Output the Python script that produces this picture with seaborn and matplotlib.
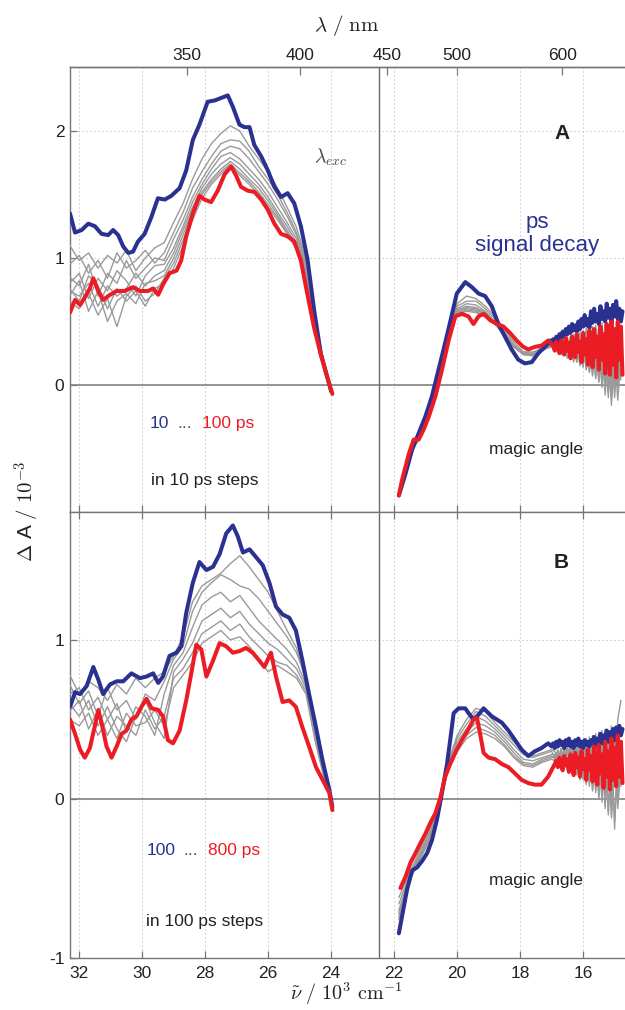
import numpy as np
import matplotlib
matplotlib.use("Agg")
import matplotlib.pyplot as plt
import seaborn as sns

# ---------------------------------------------------------------------------
# Transient absorption spectra, wavenumber in 10^3 cm^-1, dA in 10^-3
# Panel A: 10 ... 100 ps (10 ps steps), Panel B: 100 ... 800 ps (100 ps steps)
# Each spectrum has a UV part (32.3 - 24) and a visible part (21.9 - 14.7).
# ---------------------------------------------------------------------------

# sampling of the noisy red edge of the visible window
nu_tail = [17.10, 17.05, 17.00, 16.95, 16.90, 16.85, 16.80, 16.75, 16.70, 16.65,
           16.60, 16.55, 16.50, 16.45, 16.40, 16.35, 16.30, 16.25, 16.20, 16.15,
           16.10, 16.05, 16.00, 15.95, 15.90, 15.85, 15.80, 15.75, 15.70, 15.65,
           15.60, 15.55, 15.50, 15.45, 15.40, 15.35, 15.30, 15.25, 15.20, 15.15,
           15.10, 15.05, 15.00, 14.95, 14.90, 14.85, 14.80, 14.75]

# ---- Panel A, first delay (10 ps) ----
nu_A_first_uv = [32.29, 32.13, 31.92, 31.71, 31.50, 31.29, 31.08, 30.92, 30.76, 30.60,
                 30.44, 30.29, 30.13, 29.92, 29.71, 29.50, 29.28, 29.07, 28.81, 28.60,
                 28.39, 28.18, 27.92, 27.70, 27.49, 27.28, 27.12, 26.91, 26.75, 26.59,
                 26.44, 26.22, 26.01, 25.80, 25.59, 25.38, 25.17, 24.96, 24.75, 24.54,
                 24.33, 24.12, 24.00]
dA_A_first_uv = [1.35, 1.20, 1.22, 1.27, 1.25, 1.19, 1.18, 1.22, 1.18, 1.09,
                 1.04, 1.05, 1.13, 1.19, 1.32, 1.47, 1.46, 1.49, 1.55, 1.69,
                 1.93, 2.05, 2.23, 2.24, 2.26, 2.28, 2.19, 2.05, 2.03, 2.03,
                 1.89, 1.80, 1.69, 1.56, 1.48, 1.51, 1.43, 1.25, 0.99, 0.59,
                 0.25, 0.06, -0.05]
nu_A_first_vis = [21.85, 21.64, 21.43, 21.22, 21.01, 20.80, 20.59, 20.38, 20.16, 20.01,
                  19.74, 19.53, 19.32, 19.11, 18.90, 18.69, 18.48, 18.27, 18.06, 17.85,
                  17.63, 17.42, 17.21] + nu_tail
dA_A_first_vis = [-0.87, -0.70, -0.51, -0.38, -0.25, -0.09, 0.12, 0.33, 0.56, 0.72,
                  0.81, 0.77, 0.72, 0.70, 0.62, 0.48, 0.38, 0.28, 0.20, 0.17,
                  0.18, 0.25, 0.30] + \
                 [0.33, 0.35, 0.32, 0.36, 0.34, 0.38, 0.35, 0.40, 0.37, 0.42,
                  0.38, 0.44, 0.40, 0.46, 0.41, 0.48, 0.43, 0.47, 0.42, 0.50,
                  0.44, 0.52, 0.46, 0.55, 0.47, 0.52, 0.45, 0.58, 0.49, 0.60,
                  0.50, 0.56, 0.48, 0.62, 0.52, 0.58, 0.50, 0.64, 0.53, 0.60,
                  0.49, 0.63, 0.54, 0.66, 0.52, 0.60, 0.50, 0.58]

# ---- Panel A, last delay (100 ps) ----
nu_A_last_uv = [32.29, 32.13, 31.97, 31.82, 31.66, 31.55, 31.39, 31.24, 31.02, 30.81,
                30.55, 30.29, 30.07, 29.81, 29.65, 29.49, 29.34, 29.13, 28.91, 28.76,
                28.60, 28.39, 28.18, 28.02, 27.81, 27.60, 27.38, 27.17, 27.02, 26.86,
                26.65, 26.43, 26.22, 26.01, 25.80, 25.59, 25.38, 25.17, 24.96, 24.75,
                24.54, 24.33, 24.11, 23.96]
dA_A_last_uv = [0.57, 0.67, 0.63, 0.69, 0.76, 0.84, 0.74, 0.67, 0.71, 0.74,
                0.74, 0.77, 0.74, 0.74, 0.76, 0.71, 0.79, 0.88, 0.90, 0.98,
                1.17, 1.35, 1.49, 1.46, 1.44, 1.53, 1.66, 1.72, 1.65, 1.56,
                1.53, 1.52, 1.46, 1.38, 1.27, 1.19, 1.17, 1.13, 0.98, 0.71,
                0.45, 0.24, 0.05, -0.07]
nu_A_last_vis = [21.85, 21.75, 21.53, 21.38, 21.22, 21.06, 20.90, 20.69, 20.48, 20.27,
                 20.06, 19.85, 19.64, 19.48, 19.32, 19.16, 18.95, 18.74, 18.53, 18.32,
                 18.11, 17.90, 17.74, 17.53, 17.32, 17.11] + nu_tail[3:]
dA_A_last_vis = [-0.87, -0.75, -0.54, -0.43, -0.43, -0.35, -0.25, -0.09, 0.12, 0.35,
                 0.54, 0.56, 0.54, 0.48, 0.54, 0.56, 0.51, 0.48, 0.46, 0.41,
                 0.35, 0.30, 0.28, 0.30, 0.31, 0.35] + \
                [0.31, 0.27, 0.34, 0.29, 0.25, 0.35, 0.30, 0.24, 0.37, 0.27,
                 0.33, 0.21, 0.38, 0.30, 0.22, 0.40, 0.26, 0.34, 0.18, 0.41,
                 0.24, 0.36, 0.16, 0.43, 0.28, 0.14, 0.44, 0.22, 0.38, 0.12,
                 0.46, 0.20, 0.40, 0.09, 0.48, 0.26, 0.08, 0.50, 0.16, 0.44,
                 0.06, 0.50, 0.20, 0.46, 0.08]

# ---- intermediate delays share coarser grids ----
nu_mid_uv = [32.3, 32.0, 31.7, 31.4, 31.1, 30.8, 30.5, 30.2, 29.9, 29.6,
             29.3, 29.0, 28.7, 28.4, 28.1, 27.8, 27.5, 27.2, 26.9, 26.6,
             26.3, 26.0, 25.7, 25.4, 25.1, 24.8, 24.5, 24.2, 24.0]
nu_mid_vis = [21.85, 21.5, 21.2, 20.9, 20.6, 20.3, 20.0, 19.7, 19.4, 19.1,
              18.8, 18.5, 18.2, 17.9, 17.6, 17.3, 17.0,
              16.9, 16.8, 16.7, 16.6, 16.5, 16.4, 16.3, 16.2, 16.1, 16.0,
              15.9, 15.8, 15.7, 15.6, 15.5, 15.4, 15.3, 15.2, 15.1, 15.0,
              14.9, 14.8]

# Panel A, 20 ... 90 ps
dA_A_mid_uv = [
    [1.10, 0.98, 1.04, 0.92, 1.02, 0.96, 1.06, 0.90, 1.00, 1.08, 1.12, 1.28, 1.43, 1.62, 1.78,
     1.90, 1.98, 2.04, 2.00, 1.88, 1.78, 1.68, 1.55, 1.40, 1.24, 1.00, 0.50, 0.15, -0.03],
    [0.95, 1.02, 0.88, 0.98, 0.84, 1.04, 0.92, 0.98, 1.06, 0.96, 1.04, 1.20, 1.36, 1.55, 1.68,
     1.80, 1.90, 1.93, 1.92, 1.84, 1.72, 1.62, 1.50, 1.36, 1.20, 0.98, 0.49, 0.14, -0.03],
    [0.85, 0.78, 0.95, 0.70, 0.88, 0.80, 0.98, 0.84, 0.92, 1.00, 0.98, 1.15, 1.30, 1.48, 1.62,
     1.74, 1.84, 1.88, 1.86, 1.78, 1.68, 1.58, 1.46, 1.33, 1.18, 0.96, 0.48, 0.14, -0.03],
    [0.80, 0.88, 0.68, 0.84, 0.74, 0.90, 0.82, 0.70, 0.86, 0.94, 0.95, 1.08, 1.25, 1.44, 1.58,
     1.70, 1.80, 1.83, 1.78, 1.70, 1.62, 1.52, 1.40, 1.28, 1.15, 0.94, 0.47, 0.13, -0.04],
    [0.74, 0.70, 0.80, 0.62, 0.78, 0.70, 0.76, 0.88, 0.78, 0.86, 0.90, 1.04, 1.22, 1.40, 1.55,
     1.66, 1.74, 1.79, 1.74, 1.66, 1.58, 1.48, 1.36, 1.25, 1.12, 0.92, 0.46, 0.13, -0.04],
    [0.70, 0.82, 0.58, 0.74, 0.50, 0.66, 0.72, 0.64, 0.80, 0.82, 0.86, 1.00, 1.18, 1.38, 1.52,
     1.62, 1.70, 1.76, 1.70, 1.62, 1.55, 1.45, 1.34, 1.22, 1.10, 0.90, 0.45, 0.12, -0.04],
    [0.66, 0.60, 0.72, 0.55, 0.68, 0.46, 0.70, 0.78, 0.66, 0.72, 0.84, 0.96, 1.14, 1.34, 1.50,
     1.60, 1.68, 1.74, 1.67, 1.60, 1.52, 1.42, 1.32, 1.20, 1.08, 0.88, 0.44, 0.12, -0.04],
    [0.76, 0.66, 0.86, 0.78, 0.60, 0.76, 0.66, 0.74, 0.62, 0.76, 0.80, 0.92, 1.10, 1.30, 1.47,
     1.58, 1.66, 1.73, 1.65, 1.58, 1.50, 1.40, 1.30, 1.19, 1.07, 0.86, 0.43, 0.12, -0.05],
]
dA_A_mid_vis = [
    [-0.85, -0.55, -0.40, -0.20, 0.08, 0.38, 0.64, 0.70, 0.68, 0.62, 0.54, 0.44, 0.34, 0.26,
     0.25, 0.30, 0.36,
     0.33, 0.28, 0.36, 0.27, 0.38, 0.25, 0.40, 0.24, 0.42, 0.22, 0.45, 0.20, 0.46, 0.18,
     0.48, 0.14, 0.50, 0.12, 0.48, 0.16, 0.52, 0.20],
    [-0.86, -0.54, -0.41, -0.22, 0.06, 0.36, 0.62, 0.66, 0.66, 0.60, 0.52, 0.42, 0.32, 0.25,
     0.24, 0.29, 0.33,
     0.30, 0.35, 0.26, 0.37, 0.24, 0.39, 0.22, 0.41, 0.20, 0.43, 0.17, 0.45, 0.14, 0.47,
     0.10, 0.49, 0.06, 0.46, 0.02, 0.44, 0.10, 0.40],
    [-0.84, -0.56, -0.39, -0.21, 0.07, 0.35, 0.60, 0.64, 0.63, 0.58, 0.50, 0.41, 0.31, 0.24,
     0.23, 0.28, 0.32,
     0.32, 0.27, 0.34, 0.25, 0.36, 0.22, 0.38, 0.20, 0.40, 0.16, 0.42, 0.12, 0.40, 0.08,
     0.44, 0.02, 0.42, -0.06, 0.40, 0.04, 0.38, 0.18],
    [-0.87, -0.53, -0.42, -0.23, 0.05, 0.34, 0.59, 0.62, 0.61, 0.57, 0.49, 0.40, 0.30, 0.24,
     0.23, 0.27, 0.31,
     0.29, 0.34, 0.25, 0.36, 0.22, 0.37, 0.20, 0.39, 0.17, 0.40, 0.14, 0.42, 0.10, 0.44,
     0.04, 0.42, -0.04, 0.44, -0.12, 0.40, 0.02, 0.34],
    [-0.85, -0.55, -0.42, -0.22, 0.06, 0.33, 0.58, 0.61, 0.60, 0.56, 0.49, 0.40, 0.31, 0.25,
     0.24, 0.28, 0.32,
     0.31, 0.26, 0.33, 0.24, 0.35, 0.21, 0.36, 0.18, 0.38, 0.15, 0.40, 0.10, 0.41, 0.06,
     0.38, 0.00, 0.40, -0.10, 0.36, -0.04, 0.32, 0.12],
    [-0.86, -0.54, -0.41, -0.23, 0.05, 0.33, 0.57, 0.60, 0.59, 0.55, 0.48, 0.39, 0.30, 0.24,
     0.24, 0.27, 0.31,
     0.28, 0.33, 0.24, 0.35, 0.21, 0.36, 0.18, 0.37, 0.16, 0.38, 0.12, 0.40, 0.08, 0.39,
     0.02, 0.36, -0.08, 0.34, -0.16, 0.30, -0.02, 0.26],
    [-0.84, -0.53, -0.42, -0.24, 0.04, 0.32, 0.56, 0.59, 0.58, 0.54, 0.48, 0.39, 0.30, 0.25,
     0.25, 0.28, 0.30,
     0.30, 0.26, 0.32, 0.23, 0.34, 0.20, 0.35, 0.18, 0.36, 0.14, 0.37, 0.10, 0.36, 0.05,
     0.34, -0.02, 0.32, -0.06, 0.30, -0.10, 0.28, 0.04],
    [-0.86, -0.53, -0.42, -0.24, 0.04, 0.32, 0.56, 0.58, 0.57, 0.54, 0.48, 0.40, 0.31, 0.26,
     0.26, 0.28, 0.30,
     0.27, 0.32, 0.24, 0.34, 0.22, 0.35, 0.19, 0.36, 0.15, 0.37, 0.12, 0.38, 0.07, 0.36,
     0.03, 0.34, -0.04, 0.30, -0.08, 0.26, -0.12, 0.20],
]

# ---- Panel B, first delay (100 ps) ----
nu_B_first_uv = [32.29, 32.13, 31.97, 31.76, 31.55, 31.39, 31.24, 31.02, 30.81, 30.60,
                 30.34, 30.07, 29.86, 29.65, 29.49, 29.34, 29.13, 28.91, 28.76, 28.60,
                 28.39, 28.18, 27.96, 27.75, 27.54, 27.33, 27.12, 26.96, 26.80, 26.59,
                 26.38, 26.17, 25.96, 25.75, 25.54, 25.33, 25.12, 24.91, 24.70, 24.48,
                 24.27, 24.06, 23.96]
dA_B_first_uv = [0.58, 0.67, 0.66, 0.71, 0.83, 0.75, 0.66, 0.72, 0.74, 0.74,
                 0.79, 0.76, 0.77, 0.79, 0.73, 0.77, 0.90, 0.92, 0.96, 1.17,
                 1.36, 1.49, 1.44, 1.46, 1.54, 1.67, 1.72, 1.65, 1.55, 1.57,
                 1.52, 1.47, 1.36, 1.21, 1.16, 1.14, 1.06, 0.87, 0.66, 0.45,
                 0.24, 0.06, -0.05]
nu_B_first_vis = [21.85, 21.75, 21.59, 21.43, 21.27, 21.11, 20.95, 20.80, 20.64, 20.48,
                  20.32, 20.22, 20.11, 19.95, 19.74, 19.64, 19.48, 19.32, 19.16, 18.90,
                  18.58, 18.37, 18.16, 17.95, 17.74, 17.53, 17.32, 17.11] + nu_tail[2:]
dA_B_first_vis = [-0.845, -0.74, -0.57, -0.45, -0.43, -0.39, -0.34, -0.26, -0.13, 0.04,
                  0.22, 0.37, 0.54, 0.57, 0.57, 0.54, 0.50, 0.53, 0.57, 0.52,
                  0.48, 0.43, 0.37, 0.31, 0.27, 0.30, 0.32, 0.35] + \
                 [0.33, 0.35, 0.32, 0.36, 0.33, 0.37, 0.34, 0.36, 0.32, 0.37,
                  0.34, 0.38, 0.33, 0.36, 0.32, 0.37, 0.34, 0.38, 0.33, 0.36,
                  0.32, 0.37, 0.34, 0.36, 0.33, 0.37, 0.35, 0.39, 0.34, 0.38,
                  0.36, 0.41, 0.35, 0.40, 0.37, 0.43, 0.36, 0.42, 0.38, 0.44,
                  0.37, 0.45, 0.39, 0.46, 0.40, 0.44]

# ---- Panel B, last delay (800 ps) ----
nu_B_last_uv = [32.29, 32.13, 31.97, 31.82, 31.66, 31.50, 31.39, 31.29, 31.13, 30.97,
                30.81, 30.65, 30.50, 30.34, 30.18, 30.02, 29.86, 29.70, 29.49, 29.34,
                29.18, 29.02, 28.81, 28.60, 28.44, 28.28, 28.12, 27.96, 27.75, 27.54,
                27.33, 27.12, 26.91, 26.70, 26.49, 26.28, 26.12, 25.91, 25.75, 25.54,
                25.33, 25.12, 24.91, 24.70, 24.48, 24.27, 24.06, 23.96]
dA_B_last_uv = [0.50, 0.41, 0.31, 0.26, 0.32, 0.46, 0.56, 0.48, 0.33, 0.26,
                0.33, 0.41, 0.43, 0.50, 0.52, 0.58, 0.63, 0.57, 0.56, 0.52,
                0.37, 0.35, 0.43, 0.62, 0.79, 0.97, 0.94, 0.77, 0.87, 0.98,
                0.96, 0.92, 0.93, 0.95, 0.92, 0.87, 0.83, 0.92, 0.77, 0.61,
                0.62, 0.58, 0.45, 0.33, 0.20, 0.12, 0.04, -0.07]
nu_B_last_vis = [21.80, 21.64, 21.48, 21.32, 21.17, 21.01, 20.85, 20.69, 20.53, 20.38,
                 20.22, 20.06, 19.85, 19.64, 19.48, 19.37, 19.27, 19.16, 19.00, 18.79,
                 18.58, 18.37, 18.16, 17.95, 17.74, 17.53, 17.32, 17.11, 16.90] + nu_tail[5:]
dA_B_last_vis = [-0.56, -0.49, -0.40, -0.34, -0.28, -0.22, -0.15, -0.09, 0.01, 0.14,
                 0.22, 0.29, 0.37, 0.44, 0.50, 0.51, 0.41, 0.29, 0.26, 0.25,
                 0.22, 0.20, 0.16, 0.12, 0.10, 0.09, 0.09, 0.14, 0.22] + \
                [0.24, 0.20, 0.26, 0.22, 0.18, 0.27, 0.21, 0.25, 0.17, 0.28,
                 0.22, 0.15, 0.29, 0.20, 0.26, 0.14, 0.30, 0.19, 0.25, 0.12,
                 0.31, 0.18, 0.27, 0.11, 0.33, 0.20, 0.09, 0.34, 0.16, 0.28,
                 0.07, 0.36, 0.14, 0.30, 0.06, 0.38, 0.12, 0.32, 0.08, 0.40,
                 0.14, 0.36, 0.10]

# Panel B, 200 ... 700 ps
dA_B_mid_uv = [
    [0.78, 0.66, 0.74, 0.70, 0.62, 0.72, 0.66, 0.76, 0.70, 0.76, 0.80, 0.90, 1.02, 1.24, 1.34,
     1.38, 1.42, 1.48, 1.53, 1.46, 1.38, 1.30, 1.18, 1.06, 0.95, 0.74, 0.44, 0.16, 0.02],
    [0.72, 0.60, 0.68, 0.52, 0.70, 0.56, 0.62, 0.50, 0.66, 0.62, 0.74, 0.88, 0.96, 1.18, 1.30,
     1.36, 1.41, 1.38, 1.34, 1.32, 1.26, 1.18, 1.10, 1.02, 0.92, 0.76, 0.42, 0.14, 0.02],
    [0.66, 0.70, 0.56, 0.64, 0.50, 0.60, 0.42, 0.58, 0.52, 0.40, 0.66, 0.84, 0.92, 1.08, 1.22,
     1.27, 1.30, 1.24, 1.28, 1.20, 1.12, 1.06, 1.00, 0.94, 0.86, 0.72, 0.40, 0.13, 0.01],
    [0.60, 0.52, 0.62, 0.46, 0.58, 0.44, 0.36, 0.52, 0.62, 0.48, 0.38, 0.80, 0.88, 0.98, 1.12,
     1.16, 1.20, 1.14, 1.18, 1.10, 1.04, 0.98, 0.94, 0.88, 0.82, 0.70, 0.38, 0.12, 0.01],
    [0.55, 0.62, 0.44, 0.56, 0.40, 0.52, 0.46, 0.40, 0.56, 0.44, 0.52, 0.76, 0.82, 0.92, 1.04,
     1.08, 1.12, 1.06, 1.10, 1.02, 0.96, 0.90, 0.86, 0.84, 0.78, 0.68, 0.37, 0.12, 0.00],
    [0.50, 0.46, 0.54, 0.40, 0.50, 0.38, 0.54, 0.46, 0.48, 0.56, 0.46, 0.70, 0.78, 0.86, 0.98,
     1.02, 1.06, 1.00, 1.02, 0.96, 0.88, 0.80, 0.84, 0.80, 0.76, 0.66, 0.36, 0.11, 0.00],
]
dA_B_mid_vis = [
    [-0.62, -0.46, -0.33, -0.20, -0.04, 0.22, 0.40, 0.50, 0.57, 0.55, 0.48, 0.42, 0.36, 0.30,
     0.27, 0.29, 0.31,
     0.30, 0.25, 0.32, 0.24, 0.34, 0.22, 0.35, 0.20, 0.37, 0.18, 0.38, 0.16, 0.40, 0.14,
     0.42, 0.12, 0.44, 0.10, 0.46, 0.08, 0.50, 0.62],
    [-0.66, -0.47, -0.35, -0.22, -0.05, 0.21, 0.38, 0.47, 0.55, 0.52, 0.46, 0.40, 0.34, 0.28,
     0.26, 0.28, 0.30,
     0.26, 0.31, 0.22, 0.33, 0.20, 0.34, 0.18, 0.36, 0.16, 0.37, 0.13, 0.39, 0.10, 0.41,
     0.06, 0.43, 0.02, 0.40, -0.04, 0.42, 0.10, 0.30],
    [-0.70, -0.48, -0.36, -0.23, -0.06, 0.20, 0.36, 0.44, 0.52, 0.49, 0.44, 0.38, 0.31, 0.25,
     0.24, 0.26, 0.28,
     0.28, 0.23, 0.30, 0.21, 0.32, 0.19, 0.33, 0.16, 0.35, 0.13, 0.36, 0.10, 0.38, 0.06,
     0.40, 0.00, 0.38, -0.10, 0.36, -0.19, 0.30, 0.14],
    [-0.72, -0.49, -0.37, -0.25, -0.06, 0.19, 0.34, 0.42, 0.48, 0.46, 0.42, 0.36, 0.29, 0.23,
     0.22, 0.25, 0.27,
     0.25, 0.29, 0.21, 0.31, 0.18, 0.32, 0.16, 0.33, 0.13, 0.34, 0.10, 0.36, 0.06, 0.37,
     0.02, 0.36, -0.06, 0.34, -0.12, 0.32, 0.00, 0.28],
    [-0.74, -0.50, -0.38, -0.26, -0.07, 0.18, 0.32, 0.40, 0.45, 0.43, 0.40, 0.34, 0.27, 0.22,
     0.21, 0.24, 0.26,
     0.27, 0.22, 0.29, 0.20, 0.30, 0.17, 0.31, 0.15, 0.32, 0.12, 0.33, 0.08, 0.34, 0.04,
     0.33, -0.02, 0.32, -0.08, 0.30, -0.14, 0.26, 0.08],
    [-0.76, -0.51, -0.39, -0.27, -0.07, 0.17, 0.30, 0.38, 0.42, 0.41, 0.38, 0.33, 0.26, 0.21,
     0.20, 0.23, 0.25,
     0.24, 0.28, 0.20, 0.29, 0.18, 0.30, 0.15, 0.31, 0.12, 0.32, 0.09, 0.33, 0.05, 0.32,
     0.00, 0.30, -0.04, 0.28, -0.10, 0.26, -0.06, 0.20],
]

# axis ticks
nu_ticks = [32, 30, 28, 26, 24, 22, 20, 18, 16]
lambda_ticks = [350, 400, 450, 500, 600]
ticks_A = [0, 1, 2]
ticks_B = [-1, 0, 1]
nu_gap = 22.48  # boundary between the UV and visible detection windows

# ---------------------------------------------------------------------------
sns.set_theme(style="white")
plt.rcParams["font.family"] = ["Liberation Sans", "DejaVu Sans"]
plt.rcParams["mathtext.fontset"] = "cm"
plt.rcParams["axes.unicode_minus"] = False

BLUE = "#2b3190"
RED = "#ec1c24"
GRAY = "#9a9a9a"
FRAME = "#767676"
INK = "#222222"

fig = plt.figure(figsize=(6.25, 10.10), dpi=100)
axA = fig.add_axes([0.112, 0.4931, 0.888, 0.4406])
axB = fig.add_axes([0.112, 0.0515, 0.888, 0.4416])


def trace(ax, nu, dA, color, lw, z):
    sns.lineplot(x=nu, y=dA, ax=ax, color=color, linewidth=lw, sort=False,
                 estimator=None, legend=False, zorder=z)


def draw_panel(ax, mids_uv, mids_vis, first, last):
    for yu, yv in zip(mids_uv, mids_vis):
        trace(ax, nu_mid_uv, yu, GRAY, 1.0, 3)
        trace(ax, nu_mid_vis, yv, GRAY, 1.0, 3)
    for (nu_u, y_u, nu_v, y_v), col, z in ((first, BLUE, 4), (last, RED, 5)):
        trace(ax, nu_u, y_u, col, 2.9, z)
        trace(ax, nu_v, y_v, col, 2.9, z)


draw_panel(axA, dA_A_mid_uv, dA_A_mid_vis,
           (nu_A_first_uv, dA_A_first_uv, nu_A_first_vis, dA_A_first_vis),
           (nu_A_last_uv, dA_A_last_uv, nu_A_last_vis, dA_A_last_vis))
draw_panel(axB, dA_B_mid_uv, dA_B_mid_vis,
           (nu_B_first_uv, dA_B_first_uv, nu_B_first_vis, dA_B_first_vis),
           (nu_B_last_uv, dA_B_last_uv, nu_B_last_vis, dA_B_last_vis))

for ax, lim, yt in ((axA, (-1.0, 2.504), ticks_A), (axB, (-1.0, 1.805), ticks_B)):
    ax.set_xlim(32.29, 14.67)
    ax.set_ylim(*lim)
    ax.set_xticks(nu_ticks)
    ax.set_yticks(yt)
    ax.set_xlabel("")
    ax.set_ylabel("")
    ax.set_axisbelow(True)
    ax.grid(True, color="#b8b8b8", linestyle=(0, (1, 2.6)), linewidth=0.8)
    ax.axhline(0, color="#7a7a7a", linewidth=1.1, zorder=2)
    ax.axvline(nu_gap, color="#6a6a6a", linewidth=1.0, zorder=2)
    for side in ("left", "top", "bottom"):
        ax.spines[side].set_color(FRAME)
        ax.spines[side].set_linewidth(1.0)
    ax.spines["right"].set_visible(False)
    ax.tick_params(axis="both", direction="in", length=5, width=0.9, color=FRAME,
                   labelsize=12.5, labelcolor=INK)
    ax.tick_params(axis="y", pad=4, right=False, left=True)
    ax.tick_params(axis="x", pad=6)

axA.tick_params(axis="x", top=False, bottom=True, labelbottom=False)
axB.tick_params(axis="x", top=True, bottom=True, labelbottom=True)


def nu_to_lambda(nu):
    nu = np.asarray(nu, dtype=float)
    out = np.full_like(nu, 1e9)
    np.divide(1e4, nu, out=out, where=np.abs(nu) > 1e-6)
    return out


sec = axA.secondary_xaxis("top", functions=(nu_to_lambda, nu_to_lambda))
sec.set_xticks(lambda_ticks)
sec.tick_params(direction="in", length=6, width=0.9, color=FRAME, labelsize=12.5,
                labelcolor=INK, pad=3)
sec.spines["top"].set_color(FRAME)
sec.spines["top"].set_linewidth(1.0)

# axis titles
fig.text(347 / 625, 1 - 25 / 1010, r"$\lambda\ /\ \mathrm{nm}$", ha="center", va="center",
         fontsize=15, color=INK)
fig.text(346 / 625, 1 - 994 / 1010, r"$\tilde{\nu}\ /\ 10^3\ \mathrm{cm}^{-1}$",
         ha="center", va="center", fontsize=14.5, color=INK)
fig.text(27 / 625, 1 - 511 / 1010, r"$\Delta$ A $/\ 10^{-3}$", rotation=90,
         ha="center", va="center", fontsize=15, color=INK)

# panel annotations
axA.text(24.0, 1.79, r"$\lambda_{exc}$", ha="center", va="center", fontsize=14, color="#444444")
axA.text(16.67, 1.98, "A", ha="center", va="center", fontsize=15, fontweight="bold", color=INK)
axB.text(16.70, 1.49, "B", ha="center", va="center", fontsize=15, fontweight="bold", color=INK)
axA.text(17.46, 1.19, "ps\nsignal decay", ha="center", va="center", fontsize=16,
         color=BLUE, linespacing=1.1)
for ax in (axA, axB):
    ax.text(17.49, -0.51, "magic angle", ha="center", va="center", fontsize=12.5, color=INK)


def delay_range(ax, x0, y, first, last, steps):
    t1 = ax.text(x0, y, first, ha="left", va="bottom", fontsize=12.5, color=BLUE)
    t2 = ax.annotate("...", xy=(1, 0), xycoords=t1, xytext=(6, 0), textcoords="offset points",
                     ha="left", va="bottom", fontsize=12.5, color="#555555")
    ax.annotate(last, xy=(1, 0), xycoords=t2, xytext=(7, 0), textcoords="offset points",
                ha="left", va="bottom", fontsize=12.5, color=RED)
    ax.text(28.02, y - 0.45, steps, ha="center", va="bottom", fontsize=12.5, color=INK)


delay_range(axA, 29.75, -0.36, "10", "100 ps", "in 10 ps steps")
delay_range(axB, 29.87, -0.37, "100", "800 ps", "in 100 ps steps")

fig.savefig("out.png", dpi=100)
